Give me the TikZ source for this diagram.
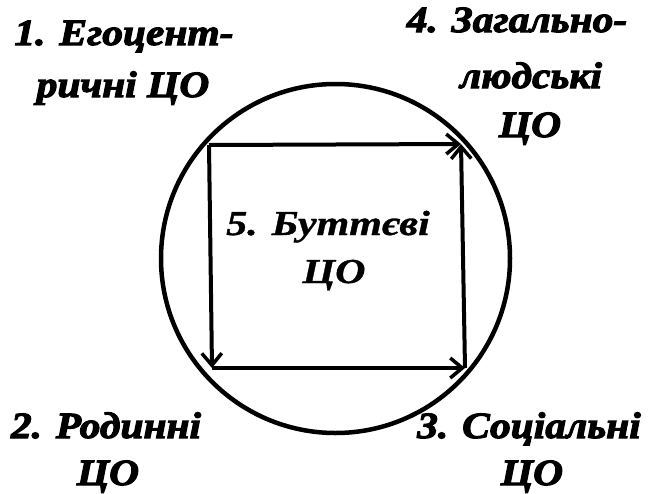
\documentclass[tikz,border=0pt]{standalone}
\usepackage{fontspec}
\newfontfamily\cornerfont{Liberation Serif}[FakeStretch=1.12,FakeBold=3]
\newfontfamily\midfont{Liberation Serif}[FakeStretch=1.2,FakeBold=1]
\usetikzlibrary{arrows.meta}

\begin{document}
\begin{tikzpicture}[x=1pt,y=-1pt,
  lbl/.style={anchor=base,inner sep=0pt,font=\cornerfont\bfseries\itshape\fontsize{37}{40}\selectfont},
  midlbl/.style={anchor=base,inner sep=0pt,font=\midfont\bfseries\itshape\fontsize{35}{40}\selectfont},
  edge/.style={line width=4pt,-{Straight Barb[length=12pt,width=20pt,line width=3.5pt]}}]
  \useasboundingbox (0,0) rectangle (648,493);
  % kolo
  \node[draw,circle,line width=4.5pt,minimum size=349pt,inner sep=0pt] (ring) at (335.5,258.5) {};
  % vershyny kvadrata
  \coordinate (c1) at (209,145);
  \coordinate (c2) at (212,368);
  \coordinate (c3) at (465,368);
  \coordinate (c4) at (461,144);
  \draw[edge] (c1) -- (c4);
  \draw[edge] (c1) -- (c2);
  \draw[edge] (c2) -- (c3);
  \draw[edge] (c3) -- (c4);
  % pidpysy po kutakh
  \foreach \x/\y/\t [count=\i] in {124/45/{1. Егоцент-},123/97/{ричні ЦО},
      517/32/{4. Загально-},531/88/{людські},530/137/{ЦО},
      106/438/{2. Родинні},108/485/{ЦО},
      529/438/{3. Соціальні},532/485/{ЦО}}
    \node[lbl] (t\i) at (\x,\y) {\t};
  % v centri
  \node[midlbl] (m1) at (328,235) {5. Буттєві};
  \node[midlbl] (m2) at (334,283) {ЦО};
\end{tikzpicture}
\end{document}
